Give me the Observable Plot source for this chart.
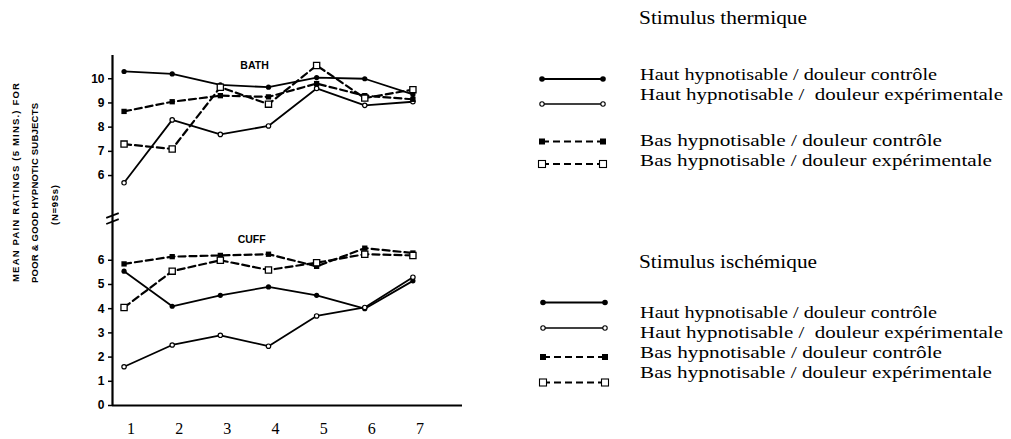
<!DOCTYPE html>
<html>
<head>
<meta charset="utf-8">
<script src="https://cdn.jsdelivr.net/npm/d3@7"></script>
<script src="https://cdn.jsdelivr.net/npm/@observablehq/plot@0.6"></script>
<style>
  html, body { margin: 0; padding: 0; background: #fff; }
  #wrap { position: relative; width: 1011px; height: 439px; overflow: hidden; background: #fff; }
  #wrap > svg { position: absolute; left: 0; top: 0; }
</style>
</head>
<body>
<div id="wrap"></div>
<script>
// ---- data ----
const sessions = [1, 2, 3, 4, 5, 6, 7];
// BATH (thermal stimulus)
const bathHautControle = [10.3, 10.2, 9.75, 9.65, 10.05, 10.0, 9.35];
const bathHautExp      = [5.7, 8.3, 7.7, 8.05, 9.6, 8.9, 9.05];
const bathBasControle  = [8.65, 9.05, 9.3, 9.25, 9.8, 9.3, 9.15];
const bathBasExp       = [7.3, 7.1, 9.65, 8.95, 10.55, 9.2, 9.55];
// CUFF (ischemic stimulus)
const cuffHautControle = [5.55, 4.1, 4.55, 4.9, 4.55, 4.0, 5.15];
const cuffHautExp      = [1.6, 2.5, 2.9, 2.45, 3.7, 4.05, 5.3];
const cuffBasControle  = [5.85, 6.15, 6.2, 6.25, 5.75, 6.5, 6.3];
const cuffBasExp       = [4.05, 5.55, 6.0, 5.6, 5.9, 6.25, 6.2];
// axis tick labels
const bathTicks = [6, 7, 8, 9, 10];
const cuffTicks = [0, 1, 2, 3, 4, 5, 6];
const panelLabels = ["BATH", "CUFF"];
const yLabelLines = ["MEAN PAIN RATINGS (5 MINS.) FOR", "POOR & GOOD HYPNOTIC SUBJECTS", "(N=9Ss)"];
const legendTitles = ["Stimulus thermique", "Stimulus ischémique"];
const legendItems = [
  "Haut hypnotisable / douleur contrôle",
  "Haut hypnotisable /\u00A0 douleur expérimentale",
  "Bas hypnotisable / douleur contrôle",
  "Bas hypnotisable / douleur expérimentale"
];

// ---- layout constants (broken axis: BATH panel drawn shifted up) ----
const OFFSET = 3.5;          // BATH values are plotted at value + OFFSET
const Y_MAX = 14.46;
const X_DOMAIN = [0.76, 8.03];
const BREAKS = [7.85, 7.6];

const series = [
  {panel: "bath", key: "HC", vals: bathHautControle},
  {panel: "bath", key: "HE", vals: bathHautExp},
  {panel: "bath", key: "BC", vals: bathBasControle},
  {panel: "bath", key: "BE", vals: bathBasExp},
  {panel: "cuff", key: "HC", vals: cuffHautControle},
  {panel: "cuff", key: "HE", vals: cuffHautExp},
  {panel: "cuff", key: "BC", vals: cuffBasControle},
  {panel: "cuff", key: "BE", vals: cuffBasExp}
];
const rows = series.flatMap(s => s.vals.map((v, i) => ({
  panel: s.panel, key: s.key, id: s.panel + s.key, x: sessions[i], v
})));
const yv = d => d.panel === "bath" ? d.v + OFFSET : d.v;
const only = k => rows.filter(d => d.key === k);
const solid = rows.filter(d => d.key[0] === "H");
const dashed = rows.filter(d => d.key[0] === "B");

const yTicks = [...cuffTicks, ...bathTicks.map(t => t + OFFSET)];
const labelRows = [
  {t: panelLabels[0], x: 3.71, y: 10.55 + OFFSET},
  {t: panelLabels[1], x: 3.65, y: 6.86}
];

const chart = Plot.plot({
  width: 480, height: 439,
  marginLeft: 112, marginRight: 18, marginTop: 55, marginBottom: 34,
  x: {domain: X_DOMAIN},
  y: {domain: [0, Y_MAX]},
  style: {fontFamily: "'Liberation Sans', Arial, sans-serif", background: "white", color: "black"},
  marks: [
    Plot.ruleX([X_DOMAIN[0]], {y1: 0, y2: Y_MAX, stroke: "black", strokeWidth: 2.2}),
    Plot.ruleY([0], {x1: X_DOMAIN[0], x2: X_DOMAIN[1], stroke: "black", strokeWidth: 2}),
    Plot.link(BREAKS, {x1: () => X_DOMAIN[0] - 0.13, x2: () => X_DOMAIN[0] + 0.13,
      y1: b => b - 0.1, y2: b => b + 0.1, stroke: "black", strokeWidth: 1.8}),
    Plot.axisY({ticks: yTicks, tickFormat: d => d < 8 ? String(d) : String(Math.round(d - OFFSET)),
      tickSize: 4, tickPadding: 4, fontWeight: "bold", fontSize: 12, strokeWidth: 1.5, label: null}),
    Plot.axisX({ticks: sessions, tickSize: 0, tickPadding: 17, dx: 7,
      fontFamily: "'Liberation Serif', 'Times New Roman', serif", fontSize: 16, label: null}),
    Plot.line(solid, {x: "x", y: yv, z: "id", stroke: "black", strokeWidth: 1.8}),
    Plot.line(dashed, {x: "x", y: yv, z: "id", stroke: "black", strokeWidth: 2.2, strokeDasharray: "7,4"}),
    Plot.dot(only("HC"), {x: "x", y: yv, r: 2.6, fill: "black"}),
    Plot.dot(only("HE"), {x: "x", y: yv, r: 2.2, fill: "white", stroke: "black", strokeWidth: 1.2}),
    Plot.dot(only("BC"), {x: "x", y: yv, symbol: "square", r: 3, fill: "black"}),
    Plot.dot(only("BE"), {x: "x", y: yv, symbol: "square", r: 3.5, fill: "white", stroke: "black", strokeWidth: 1.3}),
    Plot.text(labelRows, {x: "x", y: "y", text: "t", fontWeight: "bold", fontSize: 10.5, ariaLabel: "panel-label"})
  ]
});
document.getElementById("wrap").appendChild(chart);
d3.select(chart).selectAll('g[aria-label="panel-label"] text').style("letter-spacing", "1.8px");

// ---- overlay: rotated y label and legend ----
const ov = d3.select("#wrap").append("svg").attr("width", 1011).attr("height", 439)
  .style("pointer-events", "none");
const yl = [
  {t: yLabelLines[0], cx: 15, cy: 182.5, len: 199},
  {t: yLabelLines[1], cx: 34, cy: 193, len: 180},
  {t: yLabelLines[2], cx: 54, cy: 205, len: 40}
];
ov.selectAll("text.yl").data(yl).join("text").attr("class", "yl")
  .attr("transform", d => `translate(${d.cx},${d.cy}) rotate(-90)`)
  .attr("text-anchor", "middle").attr("dominant-baseline", "central")
  .attr("textLength", d => d.len).attr("lengthAdjust", "spacing")
  .style("font", "bold 9.5px 'Liberation Sans', Arial, sans-serif")
  .text(d => d.t);

const serif = "'Liberation Serif', 'Times New Roman', serif";
const groups = [
  {title: legendTitles[0], tb: 24, tlen: 168, rowsB: [80, 100, 145.5, 166], samples: [79, 104, 141.5, 164], sx1: 542, sx2: 603},
  {title: legendTitles[1], tb: 268, tlen: 178, rowsB: [318, 338, 358, 378], samples: [302.5, 328, 357, 382.5], sx1: 543, sx2: 605}
];
const rowLens = [297, 363, 302, 352];
groups.forEach(g => {
  ov.append("text").attr("x", 639).attr("y", g.tb).style("font", `19px ${serif}`)
    .attr("textLength", g.tlen).attr("lengthAdjust", "spacingAndGlyphs").text(g.title);
  legendItems.forEach((t, i) => {
    ov.append("text").attr("x", 640).attr("y", g.rowsB[i]).style("font", `17.5px ${serif}`)
      .attr("textLength", rowLens[i]).attr("lengthAdjust", "spacingAndGlyphs").text(t);
    const y = g.samples[i];
    const dashedLine = i >= 2;
    ov.append("line").attr("x1", g.sx1).attr("x2", g.sx2).attr("y1", y).attr("y2", y)
      .attr("stroke", "black").attr("stroke-width", dashedLine ? 2 : (i === 0 ? 2 : 1.5))
      .attr("stroke-dasharray", dashedLine ? "7,4" : null);
    [g.sx1, g.sx2].forEach(x => {
      if (i === 0) ov.append("circle").attr("cx", x).attr("cy", y).attr("r", 2.8).attr("fill", "black");
      if (i === 1) ov.append("circle").attr("cx", x).attr("cy", y).attr("r", 2.2).attr("fill", "white").attr("stroke", "black").attr("stroke-width", 1.1);
      if (i === 2) ov.append("rect").attr("x", x - 3).attr("y", y - 3).attr("width", 6).attr("height", 6).attr("fill", "black");
      if (i === 3) ov.append("rect").attr("x", x - 3.5).attr("y", y - 3.5).attr("width", 7).attr("height", 7).attr("fill", "white").attr("stroke", "black").attr("stroke-width", 1.1);
    });
  });
});
</script>
</body>
</html>
